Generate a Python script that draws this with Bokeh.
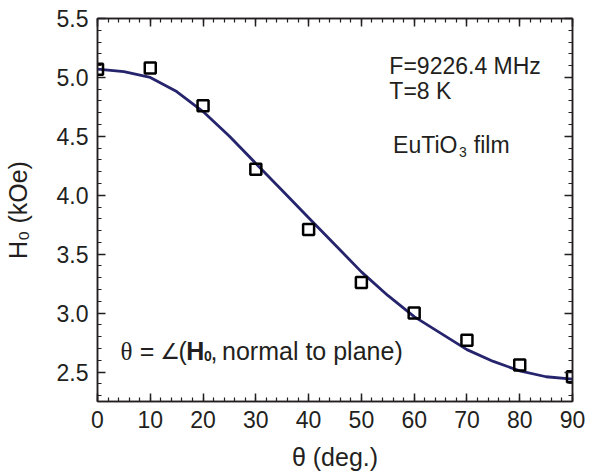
import math
from bokeh.plotting import figure
from bokeh.models import Range1d, SingleIntervalTicker, LinearAxis, Label, PrintfTickFormatter
from bokeh.embed import file_html
from bokeh.resources import INLINE

# measured points (theta in degrees, H0 in kOe)
theta_obs = [0, 10, 20, 30, 40, 50, 60, 70, 80, 90]
h_obs = [5.07, 5.08, 4.76, 4.22, 3.71, 3.26, 3.00, 2.77, 2.56, 2.46]

# fitted curve
theta_fit = [0, 5, 10, 15, 20, 25, 30, 35, 40, 45, 50, 55, 60, 65, 70, 75, 80, 85, 90]
h_fit = [5.07, 5.05, 5.00, 4.88, 4.71, 4.50, 4.27, 4.04, 3.81, 3.58, 3.35,
         3.15, 2.97, 2.83, 2.69, 2.59, 2.51, 2.46, 2.44]

INK = "#231f20"
CURVE = "#25246c"
SANS = "Liberation Sans"
SERIF = "Liberation Serif"

p = figure(width=589, height=475, output_backend="svg", toolbar_location=None,
           x_range=Range1d(0, 90), y_range=Range1d(2.25, 5.5),
           min_border_left=97, min_border_right=17, min_border_top=18,
           min_border_bottom=74)
p.background_fill_color = "white"
p.border_fill_color = "white"
p.grid.visible = False
p.outline_line_color = INK
p.outline_line_width = 1.5

def style_axis(ax, labels=True):
    ax.axis_line_color = INK
    ax.axis_line_width = 1.5
    ax.major_tick_in = 8
    ax.major_tick_out = 0
    ax.minor_tick_in = 4
    ax.minor_tick_out = 0
    ax.major_tick_line_color = INK
    ax.minor_tick_line_color = INK
    ax.major_tick_line_width = 1.5
    ax.minor_tick_line_width = 1.2
    ax.major_label_text_font = SANS
    if labels:
        ax.major_label_text_color = INK
        ax.major_label_text_font_size = "23px"
        ax.major_label_standoff = 9
        ax.axis_label_text_font = SANS
        ax.axis_label_text_font_size = "25px"
        ax.axis_label_text_font_style = "normal"
        ax.axis_label_text_color = INK
    else:
        ax.major_label_text_color = None
        ax.major_label_text_font_size = "1px"
        ax.major_label_standoff = 0

p.xaxis.ticker = SingleIntervalTicker(interval=10, num_minor_ticks=5)
p.yaxis.ticker = SingleIntervalTicker(interval=0.5, num_minor_ticks=5)
p.yaxis.formatter = PrintfTickFormatter(format="%.1f")
style_axis(p.xaxis[0])
style_axis(p.yaxis[0])
p.xaxis.axis_label = "\u03b8 (deg.)"
p.xaxis.axis_label_standoff = 12
p.yaxis.axis_label = "H\u2080 (kOe)"
p.yaxis.axis_label_standoff = 22

top = LinearAxis(ticker=SingleIntervalTicker(interval=10, num_minor_ticks=5))
right = LinearAxis(ticker=SingleIntervalTicker(interval=0.5, num_minor_ticks=5))
style_axis(top, labels=False)
style_axis(right, labels=False)
p.add_layout(top, "above")
p.add_layout(right, "right")

p.line(theta_fit, h_fit, line_color=CURVE, line_width=2.8, line_join="round")
p.scatter(theta_obs, h_obs, marker="square", size=11, fill_color=None,
          line_color="black", line_width=2.5)

def lab(x, y, text, size, font=SANS, style="normal", angle=0.0, align="left"):
    p.add_layout(Label(x=x, y=y, text=text, text_font=font, text_font_size=size,
                       text_font_style=style, text_color=INK, angle=angle,
                       text_align=align, text_baseline="alphabetic"))

# annotations inside the plot
lab(55.3, 5.099, "F=9226.4 MHz", "23px")
lab(55.3, 4.881, "T=8 K", "23px")
lab(56.0, 4.430, "EuTiO", "23px")
lab(68.5, 4.365, "3", "14px")
lab(71.3, 4.430, "film", "23px")

yb = 2.675
lab(4.36, yb, "\u03b8", "25px", font=SERIF)
lab(8.0, yb, "=", "25px")
lab(11.9, yb, "\u2220", "22px", font="DejaVu Sans")
lab(15.35, yb, "(", "25px")
lab(16.8, yb, "H", "25px", style="bold")
lab(20.2, 2.633, "0", "14px", style="bold")
lab(21.4, yb, ",", "25px")
lab(23.6, yb, "normal to plane)", "25px")

open("out.html", "w").write(file_html(p, INLINE))
